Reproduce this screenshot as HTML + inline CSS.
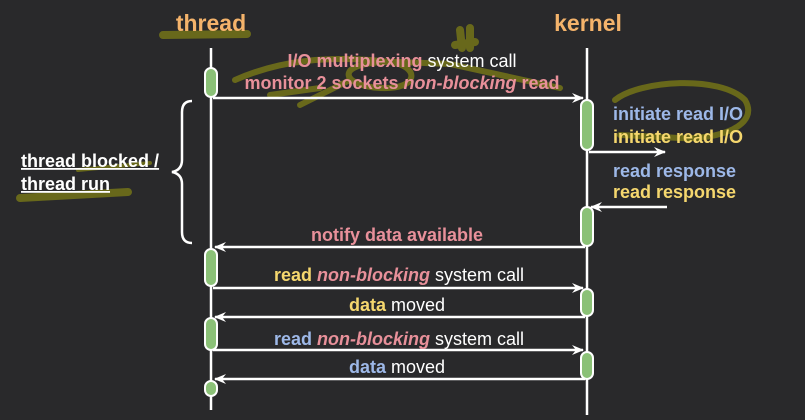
<!DOCTYPE html>
<html><head><style>
html,body{margin:0;padding:0;background:#29292b;}
svg{display:block}
text{font-family:"Liberation Sans",sans-serif;font-weight:bold;font-size:18px}
</style></head><body>
<svg width="805" height="420" viewBox="0 0 805 420">
<rect width="805" height="420" fill="#29292b"/>
<defs>
<marker id="a" markerWidth="12" markerHeight="10" refX="11" refY="5" orient="auto" markerUnits="userSpaceOnUse">
<path d="M0,0 L12,5 L0,10 L4,5 z" fill="#fff"/></marker>
</defs>
<g stroke="#7d7d16" stroke-linecap="round" fill="none" opacity="0.75">
<path d="M163,35 L247,34" stroke-width="8"/>
<path d="M460,30 L462,48 M470,28 L470,48 M455,45 L475,42" stroke-width="8"/>
<path d="M235,80 C280,60 330,55 390,62 C420,66 420,90 380,88 C340,86 330,60 400,62 L450,64 L560,88" stroke-width="6"/>
<path d="M270,95 L320,88 M300,105 L350,80" stroke-width="6"/>
<path d="M615,100 C640,80 720,75 745,100 C760,125 720,140 680,138 L620,135" stroke-width="6"/>
<path d="M20,198 L128,192" stroke-width="8"/>
<path d="M78,170 L150,163" stroke-width="4"/>
</g>
<text x="211" y="31" text-anchor="middle" fill="#f4b36b" style="font-size:23px">thread</text>
<text x="588" y="31" text-anchor="middle" fill="#f4b36b" style="font-size:23px">kernel</text>
<g stroke="#fff" stroke-width="2.5" fill="none">
<line x1="211" y1="48" x2="211" y2="410"/>
<line x1="587" y1="48" x2="587" y2="415"/>
<path d="M192,101 Q182,101 182,112 L182,160 Q182,170 172,172 Q182,174 182,184 L182,232 Q182,243 192,243"/>
<line x1="213" y1="98" x2="583" y2="98" marker-end="url(#a)"/>
<line x1="589" y1="152" x2="665" y2="152" marker-end="url(#a)"/>
<line x1="667" y1="207" x2="591" y2="207" marker-end="url(#a)"/>
<line x1="585" y1="247" x2="215" y2="247" marker-end="url(#a)"/>
<line x1="213" y1="288" x2="583" y2="288" marker-end="url(#a)"/>
<line x1="585" y1="317" x2="215" y2="317" marker-end="url(#a)"/>
<line x1="213" y1="350" x2="583" y2="350" marker-end="url(#a)"/>
<line x1="585" y1="379" x2="215" y2="379" marker-end="url(#a)"/>
</g>
<g fill="#8bc177" stroke="#fff" stroke-width="2">
<rect x="205" y="68" width="12" height="29" rx="6"/>
<rect x="205" y="249" width="12" height="37" rx="6"/>
<rect x="205" y="318" width="12" height="32" rx="6"/>
<rect x="205" y="381" width="12" height="15" rx="6"/>
<rect x="581" y="100" width="12" height="50" rx="6"/>
<rect x="581" y="207" width="12" height="39" rx="6"/>
<rect x="581" y="289" width="12" height="27" rx="6"/>
<rect x="581" y="352" width="12" height="27" rx="6"/>
</g>
<text x="402" y="67" text-anchor="middle"><tspan fill="#e8909a">I/O multiplexing</tspan><tspan fill="#fff" font-weight="normal"> system call</tspan></text>
<text x="402" y="89" text-anchor="middle" fill="#e8909a">monitor 2 sockets <tspan font-style="italic">non-blocking</tspan> read</text>
<text x="613" y="120" fill="#9db8e8">initiate read I/O</text>
<text x="613" y="143" fill="#f5d76e">initiate read I/O</text>
<text x="613" y="177" fill="#9db8e8">read response</text>
<text x="613" y="198" fill="#f5d76e">read response</text>
<text x="21" y="167" fill="#fff" text-decoration="underline">thread blocked /</text>
<text x="21" y="190" fill="#fff" text-decoration="underline">thread run</text>
<text x="397" y="241" text-anchor="middle" fill="#e8909a">notify data available</text>
<text x="399" y="281" text-anchor="middle"><tspan fill="#f5d76e">read </tspan><tspan fill="#e8909a" font-style="italic">non-blocking</tspan><tspan fill="#fff" font-weight="normal"> system call</tspan></text>
<text x="397" y="311" text-anchor="middle"><tspan fill="#f5d76e">data</tspan><tspan fill="#fff" font-weight="normal"> moved</tspan></text>
<text x="399" y="345" text-anchor="middle"><tspan fill="#9db8e8">read </tspan><tspan fill="#e8909a" font-style="italic">non-blocking</tspan><tspan fill="#fff" font-weight="normal"> system call</tspan></text>
<text x="397" y="373" text-anchor="middle"><tspan fill="#9db8e8">data</tspan><tspan fill="#fff" font-weight="normal"> moved</tspan></text>
</svg>
</body></html>
